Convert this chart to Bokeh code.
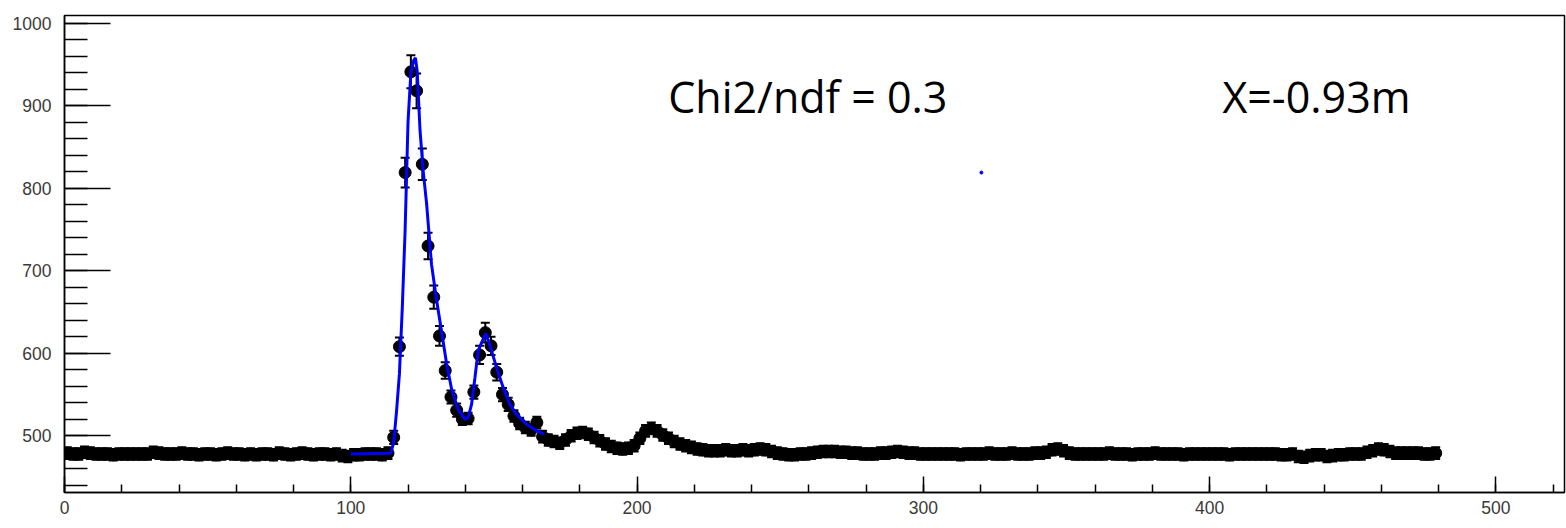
import numpy as np
from bokeh.plotting import figure
from bokeh.models import Range1d, SingleIntervalTicker, Label
from bokeh.embed import file_html
from bokeh.resources import INLINE

# ---------------- data ----------------
# histogram: 240 bins of width 2 from 0 to 480; counts listed per 40-unit row
counts_0_40 = [479, 478, 478, 480, 479, 478, 478, 478, 477, 478, 478, 478, 478, 478, 478, 480, 479, 478, 478, 478]
counts_40_80 = [479, 478, 478, 477, 478, 478, 477, 478, 479, 478, 478, 477, 478, 477, 478, 478, 477, 479, 478, 477]
counts_80_120 = [478, 479, 478, 477, 478, 478, 477, 478, 476, 475, 477, 477, 478, 478, 478, 477, 479, 498, 608, 819]
counts_120_160 = [941, 918, 829, 730, 668, 621, 579, 547, 531, 520, 521, 553, 598, 625, 609, 577, 550, 538, 524, 515]
counts_160_200 = [510, 507, 516, 499, 495, 493, 491, 495, 500, 503, 504, 502, 498, 494, 490, 487, 485, 484, 485, 488]
counts_200_240 = [497, 506, 509, 506, 501, 497, 493, 490, 488, 486, 484, 483, 482, 482, 482, 483, 482, 482, 483, 482]
counts_240_280 = [483, 484, 483, 481, 479, 478, 477, 477, 478, 478, 479, 480, 481, 481, 481, 480, 480, 479, 479, 478]
counts_280_320 = [478, 478, 479, 479, 480, 481, 480, 479, 479, 478, 478, 478, 478, 478, 478, 478, 477, 478, 478, 478]
counts_320_360 = [478, 479, 478, 478, 478, 479, 478, 478, 478, 479, 479, 480, 483, 484, 482, 479, 478, 478, 478, 478]
counts_360_400 = [478, 478, 479, 478, 478, 478, 477, 478, 478, 478, 479, 478, 478, 478, 478, 477, 478, 478, 478, 478]
counts_400_440 = [478, 478, 478, 477, 478, 478, 478, 478, 478, 478, 478, 478, 477, 477, 478, 475, 474, 476, 477, 477]
counts_440_480 = [475, 476, 477, 477, 478, 478, 478, 480, 482, 484, 483, 481, 479, 479, 479, 479, 479, 478, 478, 479]

bin_lo, bin_hi, bin_w = 0, 480, 2

# error bars: peak bins (centres 115 .. 165), elsewhere a flat value
err_peak_first_centre = 115
err_peak = [8, 11, 18, 20, 21, 19, 16, 14, 12, 10, 8, 8, 7, 7, 8, 11, 12, 11, 10, 8, 8, 7, 7, 7, 7, 7]
err_flat = 7

# blue fit curve
fit_x = [100, 114, 115, 116, 117, 118, 119, 120, 121, 122, 122.6, 123.2, 124.2, 125.3, 126.5, 128.2,
         130, 131.7, 133.5, 135.2, 137.5, 139.9, 141, 142.2, 143.4, 144.5, 145.7, 147.2, 149.2,
         150.9, 153.2, 155.6, 157.9, 161.4, 164.5, 167.5]
fit_y = [478, 479, 492, 530, 575, 655, 750, 880, 940, 955, 958, 942, 870, 821, 781, 708,
         664, 627, 587, 557, 532, 520, 522, 538, 571, 603, 613, 624, 603,
         583, 559, 538, 526, 514, 507, 502]

stray_x = [320.3]
stray_y = [819]

chi2_text = "Chi2/ndf = 0.3"
pos_text = "X=-0.93m"

# ---------------- build ----------------
counts = np.array(counts_0_40 + counts_40_80 + counts_80_120 + counts_120_160 + counts_160_200 +
                  counts_200_240 + counts_240_280 + counts_280_320 + counts_320_360 + counts_360_400 +
                  counts_400_440 + counts_440_480, dtype=float)
centers = np.arange(bin_lo + bin_w / 2, bin_hi, bin_w)
err = np.full(len(counts), float(err_flat))
i0 = int((err_peak_first_centre - bin_w / 2) / bin_w)
err[i0:i0 + len(err_peak)] = err_peak

p = figure(width=1566, height=528,
           x_range=Range1d(0, 524), y_range=Range1d(431.3, 1009.3),
           output_backend="svg", toolbar_location=None,
           min_border_left=64, min_border_right=2, min_border_top=15, min_border_bottom=36)
p.grid.visible = False
p.background_fill_color = "white"
p.border_fill_color = "white"
p.outline_line_color = "black"
p.outline_line_width = 1.5

for ax, major, minor in ((p.xaxis[0], 16, 8), (p.yaxis[0], 46, 23)):
    ax.ticker = SingleIntervalTicker(interval=100, num_minor_ticks=5)
    ax.major_tick_in = major
    ax.major_tick_out = 0
    ax.minor_tick_in = minor
    ax.minor_tick_out = 0
    ax.axis_line_color = "black"
    ax.axis_line_width = 1.5
    ax.major_tick_line_color = "black"
    ax.minor_tick_line_color = "black"
    ax.major_tick_line_width = 1.5
    ax.minor_tick_line_width = 1.5
    ax.major_label_text_font = "Liberation Sans"
    ax.major_label_text_font_size = "17.5px"
    ax.major_label_text_color = "#3a3a3a"
p.xaxis.major_label_standoff = 8
p.yaxis.major_label_standoff = 13

# error bars
p.segment(x0=centers, y0=counts - err, x1=centers, y1=counts + err, line_color="black", line_width=2)
p.scatter(centers, counts + err, marker="dash", size=9, line_color="black", line_width=2)
p.scatter(centers, counts - err, marker="dash", size=9, line_color="black", line_width=2)
# markers
p.scatter(centers, counts, marker="circle", size=12, fill_color="black", line_color="black")
# fit
p.line(fit_x, fit_y, line_color="#0000ff", line_width=3)
p.scatter(stray_x, stray_y, marker="circle", size=3, fill_color="#0000ff", line_color="#0000ff")

p.add_layout(Label(x=210.9, y=911.5, text=chi2_text, text_font="Open Sans",
                   text_font_size="43px", text_baseline="alphabetic", text_color="black"))
p.add_layout(Label(x=404.5, y=911.5, text=pos_text, text_font="Open Sans",
                   text_font_size="43px", text_baseline="alphabetic", text_color="black"))

open("out.html", "w").write(file_html(p, INLINE))
